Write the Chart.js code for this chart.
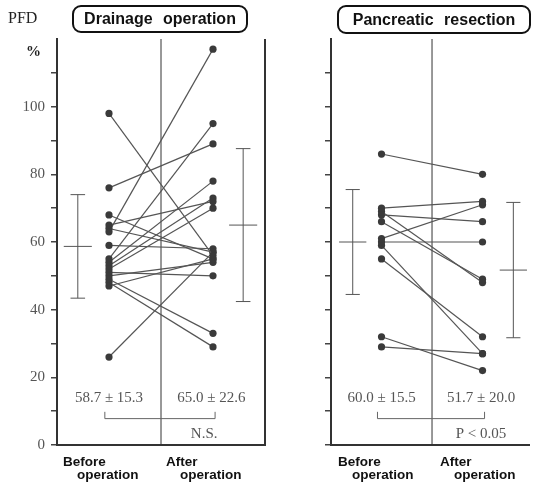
<!DOCTYPE html>
<html>
<head>
<meta charset="utf-8">
<script src="https://cdn.jsdelivr.net/npm/chart.js@4"></script>
<style>
  body { margin: 0; background: #fff; width: 533px; height: 485px; position: relative; overflow: hidden; font-family: "Liberation Sans", Arial, sans-serif; }
  canvas { position: absolute; top: 0; }
  .box { position: absolute; box-sizing: border-box; border: 2px solid #111; border-radius: 9px; font-weight: bold; font-size: 16px; text-align: center; color: #111; word-spacing: 6px; }
  .lab { position: absolute; font-weight: bold; font-size: 13.5px; line-height: 14px; color: #111; white-space: nowrap; }
  .serif { position: absolute; font-family: "Liberation Serif", "DejaVu Serif", serif; color: #222; }
</style>
</head>
<body>
<canvas id="drain" width="270" height="485" style="left:0"></canvas>
<canvas id="resect" width="263" height="485" style="left:270px"></canvas>

<div class="serif" style="left:8px;top:9px;font-size:16px">PFD</div>
<div class="serif" style="left:26px;top:43px;font-size:15px;font-weight:bold">%</div>
<div class="box" style="left:72px;top:5px;width:176px;height:28px;line-height:24px">Drainage operation</div>
<div class="box" style="left:337px;top:5px;width:194px;height:29px;line-height:25px">Pancreatic resection</div>

<div class="lab" style="left:63px;top:455px">Before</div>
<div class="lab" style="left:77px;top:468px">operation</div>
<div class="lab" style="left:166px;top:455px">After</div>
<div class="lab" style="left:180px;top:468px">operation</div>
<div class="lab" style="left:338px;top:455px">Before</div>
<div class="lab" style="left:352px;top:468px">operation</div>
<div class="lab" style="left:440px;top:455px">After</div>
<div class="lab" style="left:454px;top:468px">operation</div>

<script>
// PFD (%) per patient, before -> after
const DRAIN_BEFORE = [98, 76, 68, 65, 64, 63, 59, 55, 54, 53, 52, 51, 50, 49, 48, 47, 26];
const DRAIN_AFTER  = [56, 89, 55, 72, 57, 117, 58, 95, 78, 73, 70, 50, 54, 33, 29, 55, 57];
const RESECT_BEFORE = [86, 70, 69, 68, 66, 61, 60, 59, 55, 32, 29];
const RESECT_AFTER  = [80, 72, 48, 66, 49, 71, 60, 27, 32, 22, 27];

// group mean and SD (before, after)
const DRAIN_MEAN = [58.7, 65.0];
const DRAIN_SD = [15.3, 22.6];
const RESECT_MEAN = [60.0, 51.7];
const RESECT_SD = [15.5, 20.0];

const SIGNIF = ['N.S.', 'P < 0.05'];
const Y_TICKS = [0, 10, 20, 30, 40, 50, 60, 70, 80, 90, 100, 110];
const Y_LABELS = [0, 20, 40, 60, 80, 100];

const LINE = '#555';
const DOT = '#3a3a3a';
const FRAME = '#333';

function seg(x1, y1, x2, y2, width, color) {
    return {
        data: [{ x: x1, y: y1 }, { x: x2, y: y2 }],
        borderColor: color || LINE,
        borderWidth: width || 1,
        pointRadius: 0,
        clip: false
    };
}

// mean / SD text, bracket and significance label
const annotate = {
    id: 'annotate',
    afterDraw(chart, args, o) {
        const ctx = chart.ctx;
        const xs = chart.scales.x, ys = chart.scales.y;
        const px = v => xs.getPixelForValue(v);
        const py = v => ys.getPixelForValue(v);
        ctx.save();
        ctx.fillStyle = '#555';
        ctx.font = '15px "Liberation Serif", serif';
        ctx.textAlign = 'center';
        ctx.textBaseline = 'middle';
        o.mean.forEach((m, k) => {
            ctx.fillText(m.toFixed(1) + ' \u00b1 ' + o.sd[k].toFixed(1), px(o.textX[k]), py(14));
        });
        ctx.fillText(o.sig, px(o.sigX), py(3.3));
        ctx.strokeStyle = '#666';
        ctx.lineWidth = 1;
        ctx.beginPath();
        ctx.moveTo(px(o.bracket[0]), py(9.8));
        ctx.lineTo(px(o.bracket[0]), py(7.8));
        ctx.lineTo(px(o.bracket[1]), py(7.8));
        ctx.lineTo(px(o.bracket[1]), py(9.8));
        ctx.stroke();
        ctx.restore();
    }
};

function buildPanel(id, before, after, mean, sd, cfg) {
    const datasets = [];
    before.forEach((b, i) => {
        datasets.push({
            data: [{ x: 1, y: b }, { x: 3, y: after[i] }],
            borderColor: LINE,
            borderWidth: 1.2,
            pointRadius: 3.6,
            pointBackgroundColor: DOT,
            pointBorderWidth: 0,
            clip: false
        });
    });
    // middle divider and panel border
    cfg.frameX.forEach(x => datasets.push(seg(x, 0, x, 120, x === 2 ? 1 : 2, FRAME)));
    // mean +- SD bars
    cfg.barX.forEach((x, k) => {
        const lo = mean[k] - sd[k], hi = mean[k] + sd[k];
        datasets.push(seg(x, lo, x, hi));
        datasets.push(seg(x - 0.14, hi, x + 0.14, hi));
        datasets.push(seg(x - 0.14, lo, x + 0.14, lo));
        datasets.push(seg(x - 0.27, mean[k], x + 0.27, mean[k]));
    });

    return new Chart(document.getElementById(id), {
        type: 'line',
        data: { datasets },
        plugins: [annotate],
        options: {
            responsive: false,
            animation: false,
            layout: { padding: { top: 39, right: cfg.padRight, left: 0, bottom: 0 } },
            plugins: {
                legend: { display: false },
                tooltip: { enabled: false },
                annotate: {
                    mean, sd,
                    textX: [1, 2.97],
                    sig: cfg.sig,
                    sigX: cfg.sigX,
                    bracket: cfg.bracket
                }
            },
            scales: {
                x: {
                    type: 'linear',
                    min: 0,
                    max: cfg.xMax,
                    ticks: { display: false },
                    grid: { display: false },
                    border: { color: FRAME, width: 2 },
                    afterFit: s => { s.height = 40; }
                },
                y: {
                    min: 0,
                    max: 120,
                    afterBuildTicks: s => { s.ticks = Y_TICKS.map(v => ({ value: v })); },
                    ticks: {
                        callback: v => (cfg.labels && Y_LABELS.includes(v)) ? v : '',
                        font: { family: '"Liberation Serif", serif', size: 15 },
                        color: '#555',
                        padding: 6
                    },
                    grid: { drawOnChartArea: false, tickLength: 6, color: '#444', lineWidth: 1.5 },
                    border: { color: FRAME, width: 2 },
                    afterFit: s => { s.width = cfg.axisW; }
                }
            }
        }
    });
}

buildPanel('drain', DRAIN_BEFORE, DRAIN_AFTER, DRAIN_MEAN, DRAIN_SD, {
    frameX: [2, 4], barX: [0.4, 3.58], xMax: 4, padRight: 5, axisW: 57,
    labels: true, sig: SIGNIF[0], sigX: 2.83, bracket: [0.92, 3.04]
});
buildPanel('resect', RESECT_BEFORE, RESECT_AFTER, RESECT_MEAN, RESECT_SD, {
    frameX: [2], barX: [0.43, 3.61], xMax: 3.92, padRight: 0, axisW: 61,
    labels: false, sig: SIGNIF[1], sigX: 2.97, bracket: [0.92, 3.04]
});
</script>
</body>
</html>
